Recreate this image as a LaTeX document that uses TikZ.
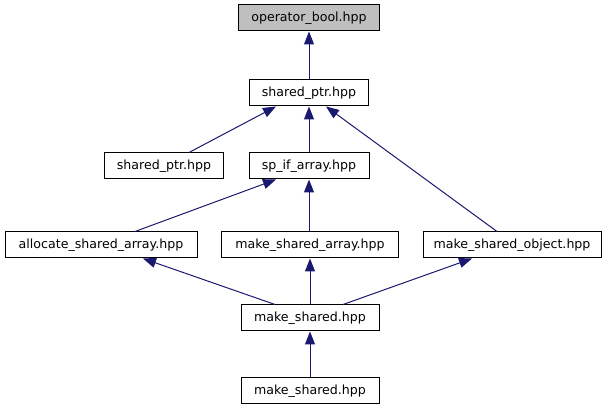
\documentclass[tikz,border=0pt]{standalone}
\usepackage{fontspec}
\setmainfont{DejaVu Sans}
\usetikzlibrary{arrows.meta}
\definecolor{edgeblue}{RGB}{25,25,112}
\definecolor{boxgray}{RGB}{191,191,191}
\tikzset{
  box/.style={draw=black, line width=1pt, fill=white, minimum height=26pt, inner sep=0pt,
    font=\fontsize{12.6}{14}\selectfont, anchor=center},
  dep/.style={draw=edgeblue, line width=1pt, -{Triangle[length=13pt,width=10pt]}}
}
\begin{document}
\begin{tikzpicture}[x=1pt,y=-1pt]
\useasboundingbox (0,0) rectangle (611,411);
\node[box, fill=boxgray, minimum width=141pt] (ob) at (309,18) {operator\_bool.hpp};
\node[box, minimum width=119pt] (sp) at (309,93) {shared\_ptr.hpp};
\node[box, minimum width=119pt] (lsp) at (164,166) {shared\_ptr.hpp};
\node[box, minimum width=120pt] (spa) at (309,166) {sp\_if\_array.hpp};
\node[box, minimum width=192pt] (alloc) at (101,245) {allocate\_shared\_array.hpp};
\node[box, minimum width=177pt] (msa) at (310,245) {make\_shared\_array.hpp};
\node[box, minimum width=178pt] (mso) at (512,245) {make\_shared\_object.hpp};
\node[box, minimum width=138pt] (ms) at (310,318) {make\_shared.hpp};
\node[box, minimum width=138pt] (ms2) at (310,391) {make\_shared.hpp};

\draw[dep] (sp.north) -- (ob.south);
\draw[dep] ([xshift=25pt]lsp.north) -- ([xshift=-33pt]sp.south);
\draw[dep] (spa.north) -- (sp.south);
\draw[dep] ([xshift=-15pt]mso.north) -- ([xshift=17pt]sp.south);
\draw[dep] ([xshift=34pt]alloc.north) -- ([xshift=-33pt]spa.south);
\draw[dep] (msa.north -| spa.south) -- (spa.south);
\draw[dep] ([xshift=-35pt]ms.north) -- ([xshift=42pt]alloc.south);
\draw[dep] (ms.north) -- (msa.south);
\draw[dep] ([xshift=33pt]ms.north) -- ([xshift=-40pt]mso.south);
\draw[dep] (ms2.north) -- (ms.south);
\end{tikzpicture}
\end{document}
